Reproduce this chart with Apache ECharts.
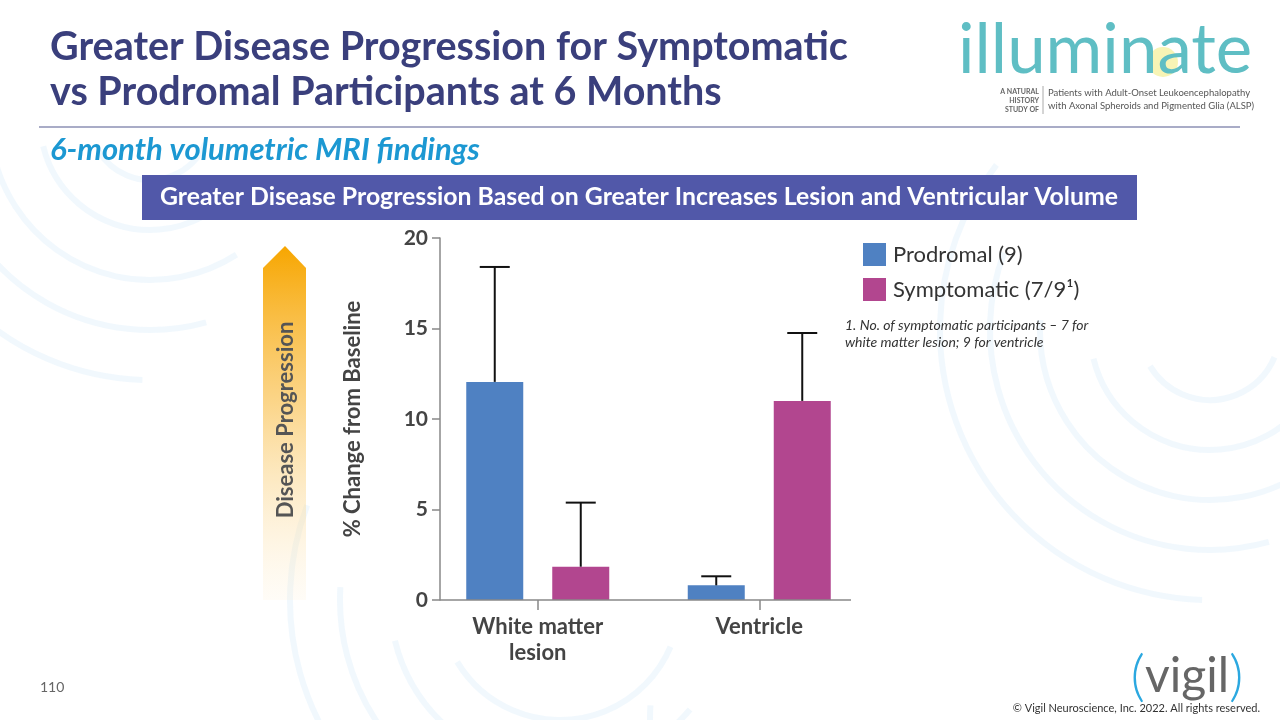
<!DOCTYPE html>
<html>
<head>
<meta charset="utf-8">
<script src="https://cdn.jsdelivr.net/npm/echarts@6/dist/echarts.min.js"></script>
<style>
  html, body { margin: 0; padding: 0; background: #ffffff; }
  #chart { width: 1280px; height: 720px; }
</style>
</head>
<body>
<div id="chart"></div>
<script>
// ---- data ----
const categories = ['White matter\nlesion', 'Ventricle'];
const seriesNames = ['Prodromal (9)', 'Symptomatic (7/9\u00B9)'];
const prodromalMean = [12.05, 0.81];
const prodromalUpper = [18.4, 1.31];
const symptomaticMean = [1.84, 11.0];
const symptomaticUpper = [5.38, 14.75];
const yTicks = [0, 5, 10, 15, 20];

// ---- style ----
const FONT = 'Lato, "Open Sans", sans-serif';
const BLUE = '#4F81C2';
const MAGENTA = '#B2468F';
const BAR_W = 57;
const BAR_GAP = 29;

const chart = echarts.init(document.getElementById('chart'));

function errorSeries(name, means, uppers, idx) {
  const data = means.map((m, i) => [i, m, uppers[i]]);
  return {
    type: 'custom',
    name: name + ' err',
    z: 5,
    silent: true,
    data: data,
    encode: { x: 0, y: [1, 2] },
    renderItem: function (params, api) {
      const c = api.value(0);
      const base = api.coord([c, api.value(1)]);
      const top = api.coord([c, api.value(2)]);
      const off = (idx - 0.5) * (BAR_W + BAR_GAP);
      const x = base[0] + off;
      const half = 15;
      const st = { stroke: '#111', lineWidth: 2 };
      return {
        type: 'group',
        children: [
          { type: 'line', shape: { x1: x, y1: base[1], x2: x, y2: top[1] }, style: st },
          { type: 'line', shape: { x1: x - half, y1: top[1], x2: x + half, y2: top[1] }, style: st }
        ]
      };
    }
  };
}

// faint background arcs
const bgArcs = [];
const arcCenters = [[150, 120, [60, 110, 160, 210, 260]], [560, 600, [120, 170, 220, 270]], [1210, 330, [70, 120, 170, 220, 270]], [900, 720, [150, 200, 250]]];
arcCenters.forEach(function (a) {
  a[2].forEach(function (r, k) {
    bgArcs.push({
      type: 'arc', silent: true, z: -10,
      shape: { cx: a[0], cy: a[1], r: r, startAngle: 0.3 * k + 0.4, endAngle: 0.3 * k + 2.6 },
      style: { stroke: 'rgba(190,222,244,0.22)', lineWidth: 6, fill: null }
    });
  });
});

const option = {
  backgroundColor: '#ffffff',
  animation: false,
  textStyle: { fontFamily: FONT },
  grid: { left: 427, right: 410, top: 238, bottom: 120, containLabel: false },
  legend: {
    orient: 'vertical',
    left: 858,
    top: 238,
    itemWidth: 23,
    itemHeight: 23,
    itemGap: 12,
    icon: 'rect',
    data: seriesNames,
    textStyle: { fontFamily: FONT, fontSize: 22, color: '#333', padding: [0, 0, 0, 2] },
    selectedMode: false
  },
  xAxis: {
    type: 'category',
    data: categories,
    axisLine: { show: false },
    axisTick: { show: true, alignWithLabel: true, length: 10, lineStyle: { color: '#888', width: 1.5 } },
    axisLabel: { fontFamily: FONT, fontSize: 22, fontWeight: 'bold', color: '#444', margin: 14, lineHeight: 26 }
  },
  yAxis: {
    type: 'value',
    min: 0, max: 20, interval: 5,
    offset: -13,
    name: '% Change from Baseline',
    nameLocation: 'middle',
    nameRotate: 90,
    nameGap: 76,
    nameTextStyle: { fontFamily: FONT, fontSize: 22, fontWeight: 'bold', color: '#444' },
    axisLine: { show: true, lineStyle: { color: '#888', width: 1.5 } },
    axisTick: { show: true, length: 8, lineStyle: { color: '#888', width: 1.5 } },
    splitLine: { show: false },
    axisLabel: {
      fontFamily: FONT, fontSize: 21, fontWeight: 'bold', color: '#444', margin: 12,
      formatter: function (v) { return yTicks.indexOf(v) >= 0 ? String(v) : ''; }
    }
  },
  series: [
    { type: 'bar', name: seriesNames[0], data: prodromalMean, barWidth: BAR_W, barGap: (BAR_GAP / BAR_W * 100) + '%', itemStyle: { color: BLUE }, z: 3 },
    { type: 'bar', name: seriesNames[1], data: symptomaticMean, barWidth: BAR_W, barGap: (BAR_GAP / BAR_W * 100) + '%', itemStyle: { color: MAGENTA }, z: 3 },
    errorSeries(seriesNames[0], prodromalMean, prodromalUpper, 0),
    errorSeries(seriesNames[1], symptomaticMean, symptomaticUpper, 1)
  ],
  graphic: bgArcs.concat([
    // title
    { type: 'text', left: 50, top: 27, z: 10, style: { text: 'Greater Disease Progression for Symptomatic', font: 'bold 39.5px ' + FONT, fill: '#3A3F7C' } },
    { type: 'text', left: 50, top: 72, z: 10, style: { text: 'vs Prodromal Participants at 6 Months', font: 'bold 39.5px ' + FONT, fill: '#3A3F7C' } },
    // separator
    { type: 'line', z: 10, shape: { x1: 39, y1: 127, x2: 1240, y2: 127 }, style: { stroke: '#8C90B4', lineWidth: 1.5 } },
    // subtitle
    { type: 'text', left: 50, top: 134, z: 10, style: { text: '6-month volumetric MRI findings', font: 'italic bold 31px ' + FONT, fill: '#1C98D2' } },
    // banner
    { type: 'rect', z: 10, shape: { x: 142, y: 175, width: 995, height: 45 }, style: { fill: '#5158A9' } },
    { type: 'text', z: 11, x: 639, y: 197, style: { text: 'Greater Disease Progression Based on Greater Increases Lesion and Ventricular Volume', font: 'bold 24.8px ' + FONT, fill: '#ffffff', align: 'center', verticalAlign: 'middle' } },
    // progression arrow
    { type: 'polygon', z: 4, shape: { points: [[263, 268], [285, 246], [306, 268], [306, 600], [263, 600]] },
      style: { fill: new echarts.graphic.LinearGradient(0, 0, 0, 1, [
        { offset: 0, color: 'rgba(247,166,0,1)' },
        { offset: 0.45, color: 'rgba(250,200,100,0.75)' },
        { offset: 1, color: 'rgba(253,235,200,0.15)' }]) } },
    { type: 'text', z: 6, x: 286, y: 420, rotation: Math.PI / 2, style: { text: 'Disease Progression', font: 'bold 22px ' + FONT, fill: '#555', align: 'center', verticalAlign: 'middle' } },
    // x axis line
    { type: 'line', z: 6, shape: { x1: 440, y1: 600, x2: 851, y2: 600 }, style: { stroke: '#888', lineWidth: 1.5 } },
    // footnote
    { type: 'text', z: 10, left: 845, top: 317, style: { text: '1. No. of symptomatic participants \u2013 7 for\nwhite matter lesion; 9 for ventricle', font: 'italic 14px ' + FONT, fill: '#333', lineHeight: 17 } },
    // illuminate logo
    { type: 'circle', z: 9, shape: { cx: 1163, cy: 62, r: 15 }, style: { fill: 'rgba(240,235,120,0.55)' } },
    { type: 'text', z: 10, left: 958, top: 16, style: { text: 'illuminate', font: '400 69px ' + FONT, fill: '#5FBEC4' } },
    { type: 'text', z: 10, x: 1039, y: 101, style: { text: 'A NATURAL\nHISTORY\nSTUDY OF', font: 'bold 7px ' + FONT, fill: '#666', align: 'right', verticalAlign: 'middle', lineHeight: 9 } },
    { type: 'line', z: 10, shape: { x1: 1043, y1: 86, x2: 1043, y2: 114 }, style: { stroke: '#aaa', lineWidth: 1 } },
    { type: 'text', z: 10, x: 1048, y: 99, style: { text: 'Patients with Adult-Onset Leukoencephalopathy\nwith Axonal Spheroids and Pigmented Glia (ALSP)', font: '9.5px ' + FONT, fill: '#555', verticalAlign: 'middle', lineHeight: 13 } },
    // vigil logo
    { type: 'text', z: 10, x: 1187, y: 677, style: { text: '{p|(}{v|vigil}{p|)}', align: 'center', verticalAlign: 'middle', rich: {
      p: { font: '300 56px ' + FONT, fill: '#2BA8E0' },
      v: { font: '48px ' + FONT, fill: '#666' } } } },
    // page number
    { type: 'text', z: 10, left: 40, top: 680, style: { text: '110', font: '14px ' + FONT, fill: '#666' } },
    // copyright
    { type: 'text', z: 10, right: 20, top: 703, style: { text: '\u00A9 Vigil Neuroscience, Inc. 2022. All rights reserved.', font: '11px ' + FONT, fill: '#333' } }
  ])
};

chart.setOption(option);
</script>
</body>
</html>
